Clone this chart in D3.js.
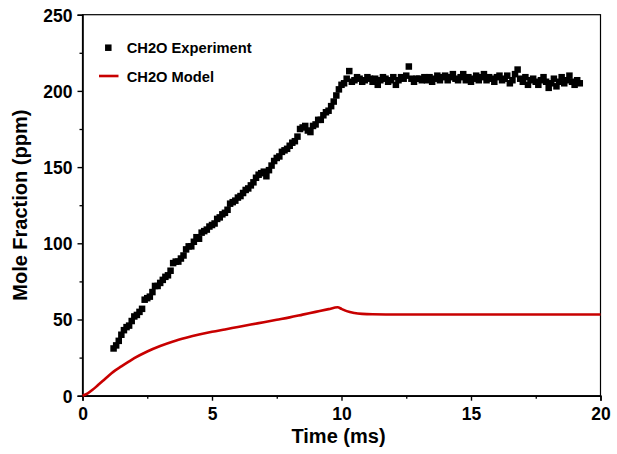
<!DOCTYPE html>
<html>
<head>
<meta charset="utf-8">
<script src="https://cdn.jsdelivr.net/npm/d3@7"></script>
<style>
  html, body { margin: 0; padding: 0; background: #fff; }
  svg { display: block; }
  text { font-family: "Liberation Sans", Arial, Helvetica, sans-serif; font-weight: bold; fill: #000; }
</style>
</head>
<body>
<svg id="chart" width="617" height="454"></svg>
<script>
// ---------- data ----------
const expTime = [
  1.2,1.3,1.4,1.5,1.6,1.7,1.8,1.9,2.0,2.1,2.2,2.3,2.4,2.5,2.6,2.7,2.8,2.9,3.0,3.1,
  3.2,3.3,3.4,3.5,3.6,3.7,3.8,3.9,4.0,4.1,4.2,4.3,4.4,4.5,4.6,4.7,4.8,4.9,5.0,5.1,
  5.2,5.3,5.4,5.5,5.6,5.7,5.8,5.9,6.0,6.1,6.2,6.3,6.4,6.5,6.6,6.7,6.8,6.9,7.0,7.1,
  7.2,7.3,7.4,7.5,7.6,7.7,7.8,7.9,8.0,8.1,8.2,8.3,8.4,8.5,8.6,8.7,8.8,8.9,9.0,9.1,
  9.2,9.3,9.4,9.5,9.6,9.7,9.8,9.9,10.0,10.1,10.2,10.3,10.4,10.5,10.6,10.7,10.8,10.9,11.0,11.1,
  11.2,11.3,11.4,11.5,11.6,11.7,11.8,11.9,12.0,12.1,12.2,12.3,12.4,12.5,12.6,12.7,12.8,12.9,13.0,13.1,
  13.2,13.3,13.4,13.5,13.6,13.7,13.8,13.9,14.0,14.1,14.2,14.3,14.4,14.5,14.6,14.7,14.8,14.9,15.0,15.1,
  15.2,15.3,15.4,15.5,15.6,15.7,15.8,15.9,16.0,16.1,16.2,16.3,16.4,16.5,16.6,16.7,16.8,16.9,17.0,17.1,
  17.2,17.3,17.4,17.5,17.6,17.7,17.8,17.9,18.0,18.1,18.2,18.3,18.4,18.5,18.6,18.7,18.8,18.9,19.0,19.1,
  19.2
];
const expValue = [
  31,33,36,40,43,45,46,49,52,53,55,57,63,64,65,68,72,72,74,76,
  78,79,82,87,88,88,90,92,96,98,98,101,104,103,107,108,109,111,112,113,
  116,117,119,120,122,126,127,128,130,131,133,135,136,138,140,143,145,146,147,144,
  148,151,154,156,157,160,161,162,164,166,167,170,175,176,177,174,173,177,178,181,
  181,184,186,187,190,193,197,201,204,205,208,213,206,207,209,208,206,207,209,208,
  206,208,204,207,209,208,206,207,209,204,207,209,208,210,216,208,206,208,208,207,
  209,207,209,206,208,210,207,209,210,207,209,211,208,207,209,211,207,209,206,208,
  210,207,209,211,207,209,208,206,209,210,207,208,210,205,207,211,214,208,206,209,
  204,207,208,206,204,207,209,206,202,205,208,203,206,209,205,207,210,206,204,207,
  205
];
const modelTime  = [0,0.2,0.4,0.6,0.8,1.0,1.2,1.5,1.8,2.0,2.5,3.0,3.5,4.0,4.5,5.0,5.5,6.0,6.5,7.0,7.5,8.0,8.5,9.0,9.5,9.85,10.0,10.2,10.5,10.8,11.2,12,14,16,18,20];
const modelValue = [0,1.5,4,7,10,13,15.8,19.2,22.5,24.6,29,32.6,35.6,38,40.1,41.9,43.5,45.1,46.7,48.2,49.8,51.4,53.2,55,56.8,58,57,55.5,54.3,53.7,53.4,53.3,53.3,53.3,53.3,53.3];

const xMajorTicks = [0,5,10,15,20];
const xMinorTicks = [2.5,7.5,12.5,17.5];
const yMajorTicks = [0,50,100,150,200,250];
const yMinorTicks = [25,75,125,175,225];

const seriesNames = ["CH2O Experiment","CH2O Model"];
const xTitle = "Time (ms)";
const yTitle = "Mole Fraction (ppm)";

// ---------- layout ----------
const L = 82.5, R = 600.5, T = 14.7, B = 395.7;
const svg = d3.select("#chart");
const x = d3.scaleLinear().domain([0,20]).range([L,R]);
const y = d3.scaleLinear().domain([0,250]).range([B,T]);

// frame (top & right)
svg.append("rect").attr("x",L).attr("y",T).attr("width",R-L).attr("height",B-T)
  .attr("fill","none").attr("stroke","#000").attr("stroke-width",1.2);

// minor ticks
const gxm = svg.append("g").attr("transform",`translate(0,${B})`)
  .call(d3.axisBottom(x).tickValues(xMinorTicks).tickSize(3).tickFormat(""));
const gym = svg.append("g").attr("transform",`translate(${L},0)`)
  .call(d3.axisLeft(y).tickValues(yMinorTicks).tickSize(3).tickFormat(""));
[gxm,gym].forEach(g=>{ g.select(".domain").remove(); g.selectAll("line").attr("stroke","#000").attr("stroke-width",1.3); });

// major axes
const gx = svg.append("g").attr("transform",`translate(0,${B})`)
  .call(d3.axisBottom(x).tickValues(xMajorTicks).tickSize(5).tickPadding(7).tickFormat(d3.format("d")));
const gy = svg.append("g").attr("transform",`translate(${L},0)`)
  .call(d3.axisLeft(y).tickValues(yMajorTicks).tickSize(5).tickPadding(5).tickFormat(d3.format("d")));
[gx,gy].forEach(g=>{
  g.select(".domain").attr("stroke","#000").attr("stroke-width",1.6);
  g.selectAll("line").attr("stroke","#000").attr("stroke-width",1.4);
  g.selectAll("text").style("font-family",'"Liberation Sans", Arial, sans-serif')
    .style("font-weight","bold").style("font-size","17.5px").attr("fill","#000");
});
gy.selectAll("text").attr("dy","0.36em");

// model line
const line = d3.line().x((d,i)=>x(modelTime[i])).y((d,i)=>y(modelValue[i])).curve(d3.curveMonotoneX);
svg.append("path").datum(modelValue).attr("d",line)
  .attr("fill","none").attr("stroke","#c80000").attr("stroke-width",2.6).attr("stroke-linejoin","round");

// experiment squares
const ms = 6.5;
svg.append("g").selectAll("rect").data(expValue).join("rect")
  .attr("x",(d,i)=>x(expTime[i])-ms/2).attr("y",d=>y(d)-ms/2)
  .attr("width",ms).attr("height",ms).attr("fill","#000");

// legend
const lg = svg.append("g");
lg.append("rect").attr("x",108.3-ms/2).attr("y",47.7-ms/2).attr("width",ms).attr("height",ms).attr("fill","#000");
lg.append("text").attr("x",126.7).attr("y",53.3).style("font-size","14.7px").text(seriesNames[0]);
lg.append("line").attr("x1",99).attr("x2",118.5).attr("y1",76).attr("y2",76)
  .attr("stroke","#c80000").attr("stroke-width",2.6);
lg.append("text").attr("x",126.7).attr("y",81.7).style("font-size","14.7px").text(seriesNames[1]);

// titles
svg.append("text").attr("x",338.5).attr("y",443).attr("text-anchor","middle")
  .style("font-size","20px").text(xTitle);
svg.append("text").attr("transform","translate(26.5,205.2) rotate(-90)").attr("text-anchor","middle")
  .style("font-size","20px").text(yTitle);
</script>
</body>
</html>
